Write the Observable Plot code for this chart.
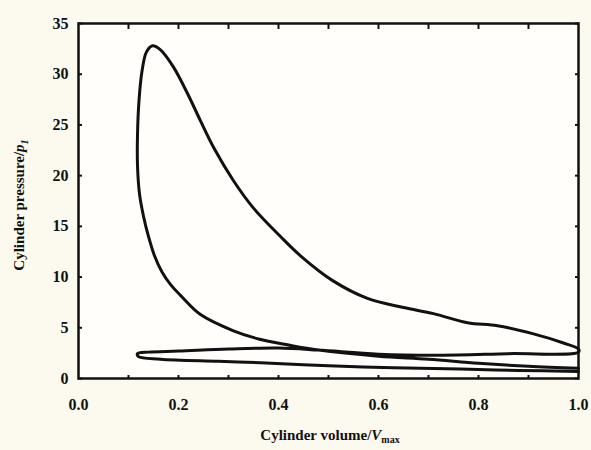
<!DOCTYPE html>
<html>
<head>
<meta charset="utf-8">
<script src="https://cdn.jsdelivr.net/npm/d3@7"></script>
<script src="https://cdn.jsdelivr.net/npm/@observablehq/plot@0.6"></script>
<style>
  html, body { margin: 0; padding: 0; background: #fcf9ef; }
  #chart svg { display: block; }
</style>
</head>
<body>
<div id="chart"></div>
<script>
// Compression stroke (BDC -> TDC, then combustion rise to peak)
const compressionV = [1.0, 0.9, 0.8, 0.7, 0.6, 0.48, 0.42, 0.36, 0.31, 0.244, 0.204, 0.185, 0.167, 0.152, 0.14, 0.13, 0.122, 0.118, 0.118, 0.121, 0.127, 0.136, 0.148];
const compressionP = [1.0, 1.2, 1.5, 1.9, 2.2, 2.8, 3.3, 3.9, 4.7, 6.3, 8.2, 9.2, 10.5, 12.1, 14.0, 16.0, 18.2, 21.0, 24.0, 27.4, 30.3, 32.2, 32.8];
// Expansion stroke
const expansionV = [0.164, 0.19, 0.218, 0.244, 0.27, 0.31, 0.35, 0.404, 0.444, 0.51, 0.578, 0.65, 0.71, 0.778, 0.838, 0.91, 0.97, 1.0];
const expansionP = [32.4, 30.7, 28.1, 25.4, 22.8, 19.5, 16.8, 14.0, 12.1, 9.6, 7.9, 7.0, 6.4, 5.5, 5.2, 4.4, 3.5, 2.9];
// Exhaust stroke
const exhaustV = [1.0, 0.86, 0.72, 0.6, 0.48, 0.4, 0.3, 0.2, 0.14, 0.118];
const exhaustP = [2.6, 2.45, 2.3, 2.4, 2.8, 3.0, 2.9, 2.7, 2.6, 2.45];
// Intake stroke
const intakeV = [0.12, 0.164, 0.28, 0.364, 0.5, 0.63, 0.764, 0.88, 1.0];
const intakeP = [2.15, 1.9, 1.7, 1.56, 1.25, 1.07, 0.93, 0.8, 0.7];

const xTicks = [0.0, 0.2, 0.4, 0.6, 0.8, 1.0];
const xMinorTicks = [0.1, 0.2, 0.3, 0.4, 0.5, 0.6, 0.7, 0.8, 0.9];
const yTicks = [0, 5, 10, 15, 20, 25, 30, 35];

const cycle = [
  ...compressionV.map((v, i) => ({v, p: compressionP[i]})),
  ...expansionV.map((v, i) => ({v, p: expansionP[i]})),
  ...exhaustV.map((v, i) => ({v, p: exhaustP[i]})),
  ...intakeV.map((v, i) => ({v, p: intakeP[i]}))
];

const font = "'Liberation Serif', 'Times New Roman', serif";

const chart = Plot.plot({
  width: 591,
  height: 450,
  marginLeft: 78,
  marginRight: 13,
  marginTop: 23,
  marginBottom: 72,
  style: {background: "transparent", fontFamily: font, fontWeight: "bold", fontSize: "16px", color: "#111"},
  x: {domain: [0, 1]},
  y: {domain: [0, 35]},
  marks: [
    Plot.frame({fill: "#fffefa"}),
    Plot.axisX({anchor: "bottom", ticks: xTicks, tickSize: 0, tickPadding: 20, tickFormat: d3.format(".1f"), label: null, fontSize: 16, fontWeight: "bold"}),
    Plot.axisX({anchor: "bottom", ticks: xMinorTicks, tickSize: -3, tickFormat: () => "", label: null, strokeWidth: 2}),
    Plot.axisX({anchor: "top", ticks: xMinorTicks, tickSize: -5, tickFormat: () => "", label: null, strokeWidth: 2}),
    Plot.axisY({anchor: "left", ticks: yTicks, tickSize: -4, tickPadding: 14, label: null, fontSize: 16, fontWeight: "bold", strokeWidth: 2}),
    Plot.axisY({anchor: "right", ticks: yTicks, tickSize: -4, tickFormat: () => "", label: null, strokeWidth: 2}),
    Plot.line(cycle, {x: "v", y: "p", curve: "catmull-rom", stroke: "#111", strokeWidth: 3, strokeLinejoin: "round", strokeLinecap: "round"}),
    Plot.frame({stroke: "#111", strokeWidth: 2.5})
  ]
});

const svg = d3.select(chart);
// y-axis label with italic p and subscript 1
const yl = svg.append("text")
  .attr("transform", "translate(24,205) rotate(-90)")
  .attr("text-anchor", "middle")
  .attr("font-family", font).attr("font-weight", "bold").attr("font-size", 15).attr("fill", "#111");
yl.append("tspan").text("Cylinder pressure/");
yl.append("tspan").attr("font-style", "italic").text("p");
yl.append("tspan").attr("font-size", 10).attr("dy", 4).attr("font-style", "italic").text("1");

// x-axis label with italic V and subscript max
const xl = svg.append("text")
  .attr("x", 330).attr("y", 440)
  .attr("text-anchor", "middle")
  .attr("font-family", font).attr("font-weight", "bold").attr("font-size", 15).attr("fill", "#111");
xl.append("tspan").text("Cylinder volume/");
xl.append("tspan").attr("font-style", "italic").text("V");
xl.append("tspan").attr("font-size", 10).attr("dy", 3).text("max");

document.getElementById("chart").appendChild(chart);
</script>
</body>
</html>
